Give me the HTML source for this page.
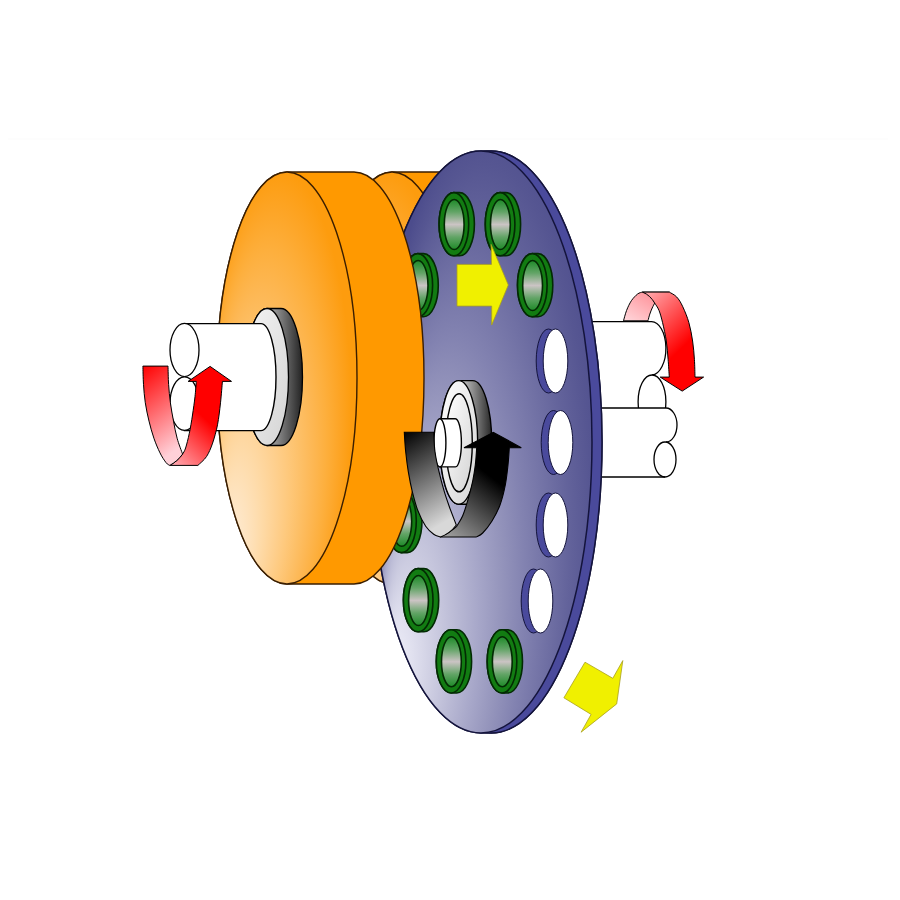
<!DOCTYPE html>
<html><head><meta charset="utf-8"><style>
html,body{margin:0;padding:0;background:#fff;width:900px;height:900px;overflow:hidden;font-family:"Liberation Sans",sans-serif}
svg{display:block}
</style></head><body>
<svg width="900" height="900" viewBox="0 0 900 900">
<defs>
<radialGradient id="gOr" gradientUnits="userSpaceOnUse" cx="279.3" cy="122.80" r="72.4" fx="223.7" fy="168.01" gradientTransform="scale(1,3.3818)">
 <stop offset="0.00" stop-color="#fef2e5"/><stop offset="0.10" stop-color="#feead0"/><stop offset="0.20" stop-color="#fee2bc"/><stop offset="0.30" stop-color="#fedaa7"/><stop offset="0.40" stop-color="#fed192"/><stop offset="0.50" stop-color="#fec97d"/><stop offset="0.60" stop-color="#fdc068"/><stop offset="0.70" stop-color="#fdb753"/><stop offset="0.80" stop-color="#fdaf3d"/><stop offset="0.90" stop-color="#fda526"/><stop offset="1.00" stop-color="#fd9c0e"/>
</radialGradient>
<radialGradient id="gOr2" gradientUnits="userSpaceOnUse" cx="384.3" cy="122.80" r="72.4" fx="328.7" fy="168.01" gradientTransform="scale(1,3.3818)">
 <stop offset="0.00" stop-color="#fef2e5"/><stop offset="0.10" stop-color="#feead0"/><stop offset="0.20" stop-color="#fee2bc"/><stop offset="0.30" stop-color="#fedaa7"/><stop offset="0.40" stop-color="#fed192"/><stop offset="0.50" stop-color="#fec97d"/><stop offset="0.60" stop-color="#fdc068"/><stop offset="0.70" stop-color="#fdb753"/><stop offset="0.80" stop-color="#fdaf3d"/><stop offset="0.90" stop-color="#fda526"/><stop offset="1.00" stop-color="#fd9c0e"/>
</radialGradient>
<radialGradient id="gPu" gradientUnits="userSpaceOnUse" cx="495.0" cy="150.32" r="119.0" fx="387.9" fy="199.31" gradientTransform="scale(1,3.4242)">
 <stop offset="0.00" stop-color="#f7f7fe"/><stop offset="0.10" stop-color="#e2e2f0"/><stop offset="0.20" stop-color="#cecee2"/><stop offset="0.30" stop-color="#babad5"/><stop offset="0.40" stop-color="#a7a7c9"/><stop offset="0.50" stop-color="#9595bc"/><stop offset="0.60" stop-color="#8383b1"/><stop offset="0.70" stop-color="#7373a6"/><stop offset="0.80" stop-color="#63639b"/><stop offset="0.90" stop-color="#565692"/><stop offset="1.00" stop-color="#4c4c8c"/>
</radialGradient>
<linearGradient id="gGr" x1="0" y1="0" x2="0" y2="1">
 <stop offset="0" stop-color="#1e8a28"/><stop offset="0.25" stop-color="#62a466"/><stop offset="0.5" stop-color="#cbc4c4"/><stop offset="0.75" stop-color="#62a466"/><stop offset="1" stop-color="#1e8a28"/>
</linearGradient>
<linearGradient id="gDk" x1="0" y1="0" x2="1" y2="0">
 <stop offset="0" stop-color="#b0b0b0"/><stop offset="1" stop-color="#202020"/>
</linearGradient>
<linearGradient id="gWf" x1="0" y1="0" x2="1" y2="1">
 <stop offset="0" stop-color="#f4f4f4"/><stop offset="1" stop-color="#d4d4d4"/>
</linearGradient>
<linearGradient id="gDkW" gradientUnits="userSpaceOnUse" x1="270" y1="0" x2="303" y2="0">
 <stop offset="0" stop-color="#a8a8a8"/><stop offset="1" stop-color="#202020"/>
</linearGradient>
<linearGradient id="gDkH" gradientUnits="userSpaceOnUse" x1="462" y1="0" x2="492" y2="0">
 <stop offset="0" stop-color="#c8c8c8"/><stop offset="1" stop-color="#262626"/>
</linearGradient>
<linearGradient id="gHub" x1="0" y1="0" x2="1" y2="1">
 <stop offset="0" stop-color="#ffffff"/><stop offset="1" stop-color="#d4d4d4"/>
</linearGradient>
<linearGradient id="gBkL" x1="0" y1="0" x2="0.3" y2="1">
 <stop offset="0" stop-color="#000000"/><stop offset="1" stop-color="#d8d8d8"/>
</linearGradient>
<linearGradient id="gBkR" x1="0" y1="1" x2="0.6" y2="0">
 <stop offset="0" stop-color="#a8a8a8"/><stop offset="0.7" stop-color="#000000"/>
</linearGradient>
<linearGradient id="gRdL" x1="0" y1="0" x2="0.3" y2="1">
 <stop offset="0" stop-color="#ff0000"/><stop offset="1" stop-color="#ffd0d8"/>
</linearGradient>
<linearGradient id="gRdR" x1="0" y1="1" x2="0.6" y2="0">
 <stop offset="0" stop-color="#ffb0b8"/><stop offset="0.6" stop-color="#ff0000"/>
</linearGradient>
<linearGradient id="gRd2L" x1="0" y1="1" x2="1" y2="0">
 <stop offset="0" stop-color="#ffd8dc"/><stop offset="1" stop-color="#ff8088"/>
</linearGradient>
<linearGradient id="gRd2R" x1="0" y1="0" x2="0.6" y2="1">
 <stop offset="0" stop-color="#ffb0b4"/><stop offset="0.7" stop-color="#ff0000"/>
</linearGradient>
</defs>
<rect width="900" height="900" fill="#fff"/>
<rect x="8" y="138.5" width="880" height="1" fill="#fbfbfb"/>
<path d="M623.5,320.8 C624.0,319.1 625.3,313.8 626.6,310.4 C627.9,307.0 629.6,303.4 631.4,300.7 C633.2,298.0 635.8,295.4 637.6,294.0 C639.4,292.6 641.6,292.4 642.4,292.1 L669.3,292.1 L654.7,303.1 C654.3,303.9 653.0,306.2 652.2,308.0 C651.4,309.8 650.5,312.0 649.8,314.1 C649.1,316.2 648.3,319.7 648.0,320.8 Z" fill="url(#gRd2L)" stroke="#000" stroke-width="1"/>
<path d="M560,321.6 L651,321.6 A14.4,26.7 0 0 1 651,375 L651,430 L560,430 Z" fill="#fff" stroke="none"/>
<path d="M560,321.6 L651,321.6 A14.4,26.7 0 0 1 652,375" fill="none" stroke="#000" stroke-width="1.3"/>
<ellipse cx="652" cy="401.7" rx="13.9" ry="26.7" fill="#fff" stroke="#000" stroke-width="1.3"/>
<path d="M560,408 L666,408 A11,17 0 0 1 666,442 A11,17.5 0 0 1 665,477 L560,477 Z" fill="#fff" stroke="none"/>
<path d="M560,408 L666,408 A11,17 0 0 1 666,442" fill="none" stroke="#000" stroke-width="1.3"/>
<ellipse cx="665" cy="459.5" rx="11" ry="17.5" fill="#fff" stroke="#000" stroke-width="1.3"/>
<path d="M560,477 L665,477" fill="none" stroke="#000" stroke-width="1.3"/>
<path d="M642.4,292.1 L669.3,292.1 C670.5,292.9 674.5,294.6 676.7,297.0 C679.0,299.4 680.8,302.5 682.8,306.8 C684.8,311.1 687.3,317.0 688.9,322.7 C690.5,328.4 691.7,334.9 692.6,341.0 C693.5,347.1 694.0,353.3 694.4,359.3 C694.8,365.3 694.9,374.1 695.0,377.1 L703.6,377.1 L682.2,391.1 L660.2,377.1 L669.3,377.1 C669.1,374.1 668.6,365.3 668.1,359.3 C667.6,353.3 667.2,347.1 666.3,341.0 C665.4,334.9 663.8,327.8 662.6,322.7 C661.4,317.6 660.3,313.7 659.0,310.4 C657.7,307.1 655.4,304.3 654.7,303.1 C652,298.5 648,294 642.4,292.1 Z" fill="url(#gRd2R)" stroke="#000" stroke-width="1"/>
<path d="M392,172 L440,172 A70,206 0 0 1 440,584 L392,584 A70,206 0 0 1 392,172 Z" fill="#ff9900" stroke="#3a1e00" stroke-width="1.4"/>
<ellipse cx="392" cy="378" rx="70" ry="206" fill="url(#gOr2)" stroke="#3a1e00" stroke-width="1.4"/>
<ellipse cx="491" cy="442" rx="111" ry="291" fill="#4a4a9c" stroke="#14143c" stroke-width="1.5"/>
<path d="M481,151 L491,151 A111,291 0 0 1 491,733 L481,733 A111,291 0 0 1 481,151 Z" fill="#4a4a9c" stroke="#14143c" stroke-width="1.5"/>
<ellipse cx="481" cy="442" rx="111" ry="291" fill="url(#gPu)" stroke="#14143c" stroke-width="1.5"/>
<ellipse cx="548.5" cy="361" rx="12.3" ry="32" fill="#4a4a9c" stroke="#14143c" stroke-width="1"/>
<ellipse cx="555.5" cy="361" rx="12.3" ry="32" fill="#fff" stroke="#14143c" stroke-width="1"/>
<ellipse cx="553.5" cy="442.5" rx="12.3" ry="32" fill="#4a4a9c" stroke="#14143c" stroke-width="1"/>
<ellipse cx="560.5" cy="442.5" rx="12.3" ry="32" fill="#fff" stroke="#14143c" stroke-width="1"/>
<ellipse cx="548.5" cy="525" rx="12.3" ry="32" fill="#4a4a9c" stroke="#14143c" stroke-width="1"/>
<ellipse cx="555.5" cy="525" rx="12.3" ry="32" fill="#fff" stroke="#14143c" stroke-width="1"/>
<ellipse cx="533.5" cy="601" rx="12.3" ry="32" fill="#4a4a9c" stroke="#14143c" stroke-width="1"/>
<ellipse cx="540.5" cy="601" rx="12.3" ry="32" fill="#fff" stroke="#14143c" stroke-width="1"/>
<path d="M453.9,192.6 L459.59999999999997,192.6 A14.8,31.6 0 0 1 459.59999999999997,255.79999999999998 L453.9,255.79999999999998 A14.8,31.6 0 0 1 453.9,192.6 Z" fill="#127c12" stroke="#032a03" stroke-width="1.6"/>
<ellipse cx="453.9" cy="224.2" rx="14.8" ry="31.6" fill="#127c12" stroke="#032a03" stroke-width="1.6"/>
<ellipse cx="454.2" cy="224.5" rx="9.9" ry="25" fill="url(#gGr)" stroke="#032a03" stroke-width="1.6"/>
<path d="M500.1,192.6 L505.8,192.6 A14.8,31.6 0 0 1 505.8,255.79999999999998 L500.1,255.79999999999998 A14.8,31.6 0 0 1 500.1,192.6 Z" fill="#127c12" stroke="#032a03" stroke-width="1.6"/>
<ellipse cx="500.1" cy="224.2" rx="14.8" ry="31.6" fill="#127c12" stroke="#032a03" stroke-width="1.6"/>
<ellipse cx="500.40000000000003" cy="224.5" rx="9.9" ry="25" fill="url(#gGr)" stroke="#032a03" stroke-width="1.6"/>
<path d="M417.8,253.6 L423.5,253.6 A14.8,31.6 0 0 1 423.5,316.8 L417.8,316.8 A14.8,31.6 0 0 1 417.8,253.6 Z" fill="#127c12" stroke="#032a03" stroke-width="1.6"/>
<ellipse cx="417.8" cy="285.2" rx="14.8" ry="31.6" fill="#127c12" stroke="#032a03" stroke-width="1.6"/>
<ellipse cx="418.1" cy="285.5" rx="9.9" ry="25" fill="url(#gGr)" stroke="#032a03" stroke-width="1.6"/>
<path d="M532.3,253.6 L538.0,253.6 A14.8,31.6 0 0 1 538.0,316.8 L532.3,316.8 A14.8,31.6 0 0 1 532.3,253.6 Z" fill="#127c12" stroke="#032a03" stroke-width="1.6"/>
<ellipse cx="532.3" cy="285.2" rx="14.8" ry="31.6" fill="#127c12" stroke="#032a03" stroke-width="1.6"/>
<ellipse cx="532.5999999999999" cy="285.5" rx="9.9" ry="25" fill="url(#gGr)" stroke="#032a03" stroke-width="1.6"/>
<path d="M401.5,489.4 L407.2,489.4 A14.8,31.6 0 0 1 407.2,552.6 L401.5,552.6 A14.8,31.6 0 0 1 401.5,489.4 Z" fill="#127c12" stroke="#032a03" stroke-width="1.6"/>
<ellipse cx="401.5" cy="521" rx="14.8" ry="31.6" fill="#127c12" stroke="#032a03" stroke-width="1.6"/>
<ellipse cx="401.8" cy="521.3" rx="9.9" ry="25" fill="url(#gGr)" stroke="#032a03" stroke-width="1.6"/>
<path d="M418.2,568.6 L423.9,568.6 A14.8,31.6 0 0 1 423.9,631.8000000000001 L418.2,631.8000000000001 A14.8,31.6 0 0 1 418.2,568.6 Z" fill="#127c12" stroke="#032a03" stroke-width="1.6"/>
<ellipse cx="418.2" cy="600.2" rx="14.8" ry="31.6" fill="#127c12" stroke="#032a03" stroke-width="1.6"/>
<ellipse cx="418.5" cy="600.5" rx="9.9" ry="25" fill="url(#gGr)" stroke="#032a03" stroke-width="1.6"/>
<path d="M451.1,629.8 L456.8,629.8 A14.8,31.6 0 0 1 456.8,693.0 L451.1,693.0 A14.8,31.6 0 0 1 451.1,629.8 Z" fill="#127c12" stroke="#032a03" stroke-width="1.6"/>
<ellipse cx="451.1" cy="661.4" rx="14.8" ry="31.6" fill="#127c12" stroke="#032a03" stroke-width="1.6"/>
<ellipse cx="451.40000000000003" cy="661.6999999999999" rx="9.9" ry="25" fill="url(#gGr)" stroke="#032a03" stroke-width="1.6"/>
<path d="M502,629.8 L507.7,629.8 A14.8,31.6 0 0 1 507.7,693.0 L502,693.0 A14.8,31.6 0 0 1 502,629.8 Z" fill="#127c12" stroke="#032a03" stroke-width="1.6"/>
<ellipse cx="502" cy="661.4" rx="14.8" ry="31.6" fill="#127c12" stroke="#032a03" stroke-width="1.6"/>
<ellipse cx="502.3" cy="661.6999999999999" rx="9.9" ry="25" fill="url(#gGr)" stroke="#032a03" stroke-width="1.6"/>
<path d="M287,172 L354,172 A70,206 0 0 1 354,584 L287,584 A70,206 0 0 1 287,172 Z" fill="#ff9900" stroke="#3a1e00" stroke-width="1.4"/>
<ellipse cx="287" cy="378" rx="70" ry="206" fill="url(#gOr)" stroke="#3a1e00" stroke-width="1.4"/>
<path d="M458.7,380.59999999999997 L472.7,380.59999999999997 A19,61.8 0 0 1 472.7,504.2 L458.7,504.2 A19,61.8 0 0 1 458.7,380.59999999999997 Z" fill="url(#gDkH)" stroke="#000" stroke-width="1.4"/>
<ellipse cx="458.7" cy="442.4" rx="19" ry="61.8" fill="url(#gHub)" stroke="#000" stroke-width="1.4"/>
<ellipse cx="459.1" cy="442.8" rx="13.2" ry="49" fill="url(#gHub)" stroke="#000" stroke-width="1.4"/>
<path d="M439.9,418.7 L455.4,418.7 A6,24.1 0 0 1 455.4,466.9 L439.9,466.9 Z" fill="#fff" stroke="#000" stroke-width="1.4"/>
<ellipse cx="439.9" cy="442.8" rx="6" ry="24.1" fill="#fff" stroke="#000" stroke-width="1.4"/>
<path d="M476.0,537.0 C477.1,536.3 480.0,535.7 482.7,533.0 C485.4,530.3 489.1,525.7 492.0,521.0 C494.9,516.3 497.8,511.0 500.0,505.0 C502.2,499.0 504.0,491.7 505.3,485.0 C506.6,478.3 507.3,471.2 508.0,465.0 C508.7,458.8 509.1,450.6 509.3,447.7 L521.3,447.7 L493.3,432.3 L464,447.7 L476.7,447.7 C476.5,450.6 476.0,459.4 475.3,465.0 C474.6,470.6 473.9,475.2 472.7,481.0 C471.5,486.8 469.7,493.9 468.0,499.7 C466.3,505.5 464.6,511.3 462.7,515.7 C460.8,520.1 457.7,524.5 456.7,526.3 C452,531 446,534 440,537 Z" fill="url(#gBkR)" stroke="#000" stroke-width="1.1"/>
<path d="M404.3,432.3 C404.5,435.5 405.0,445.1 405.7,451.7 C406.4,458.3 407.2,465.0 408.3,471.7 C409.4,478.4 410.7,485.3 412.3,491.7 C413.9,498.1 415.5,504.5 417.7,510.3 C419.9,516.1 423.0,522.3 425.7,526.3 C428.4,530.3 431.3,532.5 433.7,534.3 C436.1,536.1 439.2,536.5 440.3,537.0 C446,535 452,531 456.3,525 C455.2,522.1 451.7,513.2 449.7,507.7 C447.7,502.1 446.1,497.7 444.3,491.7 C442.5,485.7 440.6,478.4 439.0,471.7 C437.4,465.0 435.9,458.3 435.0,451.7 C434.1,445.1 433.9,435.5 433.7,432.3 Z" fill="url(#gBkL)" stroke="#000" stroke-width="1.1"/>
<path d="M267,308.5 L281,308.5 A21.5,68.5 0 0 1 281,445.5 L267,445.5 A21.5,68.5 0 0 1 267,308.5 Z" fill="url(#gDkW)" stroke="#000" stroke-width="1.3"/>
<ellipse cx="267" cy="377" rx="21.5" ry="68.5" fill="url(#gWf)" stroke="#000" stroke-width="1.3"/>
<path d="M184.5,323.6 L261,323.6 A15,53.5 0 0 1 261,430.6 L184.5,430.6 Z" fill="#fff" stroke="#000" stroke-width="1.4"/>
<ellipse cx="184.5" cy="350" rx="14.5" ry="26.6" fill="#fff" stroke="#000" stroke-width="1.3"/>
<ellipse cx="184.5" cy="403.6" rx="14.5" ry="26.8" fill="#fff" stroke="#000" stroke-width="1.3"/>
<path d="M169.8,465.4 L197.9,465.4 C199.3,463.9 204.1,460.3 206.5,456.6 C208.9,452.9 210.8,448.4 212.6,443.1 C214.4,437.8 216.2,431.5 217.5,424.8 C218.8,418.1 219.7,410.0 220.5,402.8 C221.3,395.6 222.1,385.0 222.4,381.4 L231.5,381.4 L210.1,366.4 L188.1,381.4 L196.3,381.4 C196.1,383.9 195.6,391.1 195.0,396.7 C194.4,402.3 193.4,408.9 192.5,415.0 C191.6,421.1 190.5,427.8 189.3,433.3 C188.2,438.8 186.7,444.5 185.6,448.0 C184.5,451.5 183.1,453.1 182.6,454.1 C179,459 175,462.5 169.8,465.4 Z" fill="url(#gRdR)" stroke="#000" stroke-width="1"/>
<path d="M142.9,366.1 L168,366.1 C168.1,369.2 168.2,378.3 168.6,384.4 C169.0,390.5 169.6,396.7 170.4,402.8 C171.2,408.9 172.4,415.2 173.5,421.1 C174.6,427.0 175.6,432.7 177.1,438.2 C178.6,443.7 181.7,451.5 182.6,454.1 C179,459 175,462.5 169.8,465.4 C169.2,464.9 167.7,464.8 166.1,462.7 C164.5,460.6 162.0,457.0 160.0,452.9 C158.0,448.8 155.7,443.5 153.9,438.2 C152.1,432.9 150.4,427.0 149.0,421.1 C147.6,415.2 146.2,408.9 145.3,402.8 C144.4,396.7 143.9,390.5 143.5,384.4 C143.1,378.3 143.0,369.2 142.9,366.1 Z" fill="url(#gRdL)" stroke="#000" stroke-width="1"/>
<path d="M457,264.4 L491.5,264.4 L491.1,244.4 L508.3,285 L491.7,325 L491.7,306.1 L457,306.1 Z" fill="#f0f000" stroke="#a8a020" stroke-width="0.8"/>
<path d="M585,662.2 L612.8,678.3 L622.8,660.6 L616.7,703.9 L581.1,732.2 L591.1,714.4 L563.9,697.8 Z" fill="#f0f000" stroke="#a8a020" stroke-width="0.8"/>
</svg>
</body></html>
